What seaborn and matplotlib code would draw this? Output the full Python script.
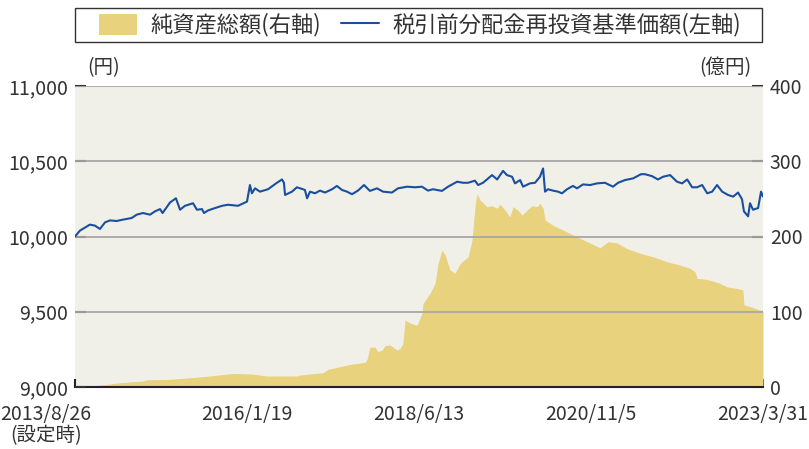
import pandas as pd
import numpy as np
import seaborn as sns
import matplotlib.pyplot as plt
from matplotlib.patches import Patch, Rectangle
from matplotlib.lines import Line2D

# ─────────────────────────────────────────
# DATA
# ─────────────────────────────────────────
START = pd.Timestamp("2013-08-26")
END   = pd.Timestamp("2023-03-31")

# 税引前分配金再投資基準価額 (円) — days since launch / value
nav_days = [0, 25, 76, 102, 127, 153, 178, 212, 244, 289, 314, 346, 382, 407, 433, 446, 484, 514, 535, 560,
            601, 621, 647, 657, 677, 713, 749, 779, 830, 876, 891, 901, 917, 942, 983, 1024, 1054, 1064, 1070,
            1105, 1130, 1161, 1171, 1182, 1197, 1222, 1248, 1273, 1309, 1334, 1360, 1385, 1411, 1441, 1472,
            1502, 1538, 1569, 1614, 1645, 1691, 1732, 1767, 1798, 1823, 1869, 1900, 1946, 1976, 2002, 2037,
            2053, 2078, 2124, 2150, 2180, 2200, 2226, 2241, 2267, 2282, 2317, 2343, 2368, 2384, 2394, 2409,
            2434, 2460, 2480, 2506, 2536, 2557, 2587, 2623, 2659, 2699, 2740, 2766, 2801, 2842, 2883, 2903,
            2939, 2969, 2995, 3031, 3066, 3092, 3118, 3143, 3168, 3194, 3220, 3245, 3270, 3296, 3326, 3352,
            3377, 3397, 3407, 3428, 3438, 3453, 3479, 3494, 3504]
nav_vals = [10000, 10039, 10079, 10072, 10050, 10094, 10107, 10103, 10112, 10123, 10145, 10156, 10145, 10167,
            10182, 10156, 10226, 10254, 10178, 10204, 10221, 10178, 10182, 10156, 10173, 10189, 10204, 10211,
            10204, 10232, 10342, 10287, 10320, 10298, 10314, 10353, 10379, 10357, 10276, 10298, 10327, 10314,
            10309, 10254, 10298, 10287, 10305, 10292, 10314, 10336, 10309, 10298, 10281, 10305, 10342, 10303,
            10320, 10298, 10292, 10320, 10331, 10327, 10331, 10305, 10314, 10303, 10331, 10364, 10357, 10357,
            10371, 10342, 10357, 10408, 10379, 10436, 10408, 10397, 10353, 10375, 10331, 10353, 10357, 10397,
            10452, 10298, 10314, 10305, 10298, 10287, 10314, 10336, 10320, 10346, 10342, 10353, 10357, 10331,
            10357, 10375, 10386, 10414, 10414, 10401, 10379, 10397, 10408, 10364, 10353, 10379, 10327, 10327,
            10342, 10287, 10298, 10342, 10298, 10276, 10265, 10292, 10248, 10167, 10134, 10221, 10178, 10189,
            10298, 10265]

# 純資産総額 (億円) — days since launch / value
aum_days = [0, 60, 161, 229, 346, 365, 484, 652, 805, 901, 978, 1131, 1146, 1263, 1289, 1401, 1477, 1487,
            1502, 1528, 1543, 1564, 1579, 1604, 1640, 1655, 1670, 1681, 1706, 1742, 1767, 1772, 1808, 1834,
            1849, 1869, 1884, 1910, 1935, 1961, 2002, 2022, 2037, 2047, 2063, 2098, 2124, 2150, 2165, 2190,
            2215, 2231, 2256, 2277, 2302, 2328, 2353, 2368, 2384, 2394, 2434, 2485, 2521, 2572, 2674, 2715,
            2760, 2811, 2878, 2944, 3015, 3081, 3132, 3158, 3168, 3219, 3285, 3321, 3372, 3402, 3407, 3438,
            3479, 3504]
aum_vals = [0, 1, 3.5, 5.7, 8, 9.5, 10.2, 13.7, 18, 17.3, 14.6, 14.6, 16, 19, 23.5, 30, 32.8, 36.5, 52.7,
            53, 47, 49, 55, 56, 49, 51, 58, 89, 85, 82, 98, 111, 124.5, 138, 164, 182, 176, 155.5, 151, 164,
            173, 195, 239.6, 257, 248.5, 239.6, 241, 237.5, 243, 235, 226, 239.6, 235, 228.6, 235, 241,
            239.6, 244, 237.5, 222, 215, 208.6, 204, 197.6, 185, 193, 191.5, 184, 177.7, 173, 166.5, 162,
            157.7, 153, 144.4, 143, 137.8, 133, 131, 129, 109, 107, 103, 100]

tick_dates  = ["2013-08-26", "2016-01-19", "2018-06-13", "2020-11-05", "2023-03-31"]
tick_labels = ["", "2016/1/19", "2018/6/13", "2020/11/5", "2023/3/31"]
left_ticks  = [9000, 9500, 10000, 10500, 11000]
right_ticks = [0, 100, 200, 300, 400]

nav = pd.DataFrame({"date": START + pd.to_timedelta(nav_days, unit="D"), "value": nav_vals})
aum = pd.DataFrame({"date": START + pd.to_timedelta(aum_days, unit="D"), "value": aum_vals})

# ─────────────────────────────────────────
# STYLE
# ─────────────────────────────────────────
sns.set_theme(style="white")
plt.rcParams['font.family'] = ['Noto Sans CJK JP', 'DejaVu Sans']

BG    = "#f1f0e8"
AREA  = "#e8d27d"
LINE  = "#1a4f9f"
GRID  = "#a6a6a6"
TEXT  = "#333333"

fig = plt.figure(figsize=(8.09, 4.49), dpi=100)
ax2 = fig.add_axes([75/809, 1 - 387/449, 688/809, 301/449])   # base axes: area, right scale, dates
ax = ax2.twinx()                                                # on top: NAV line, left scale
ax.yaxis.tick_left(); ax.yaxis.set_label_position("left")
ax2.yaxis.tick_right(); ax2.yaxis.set_label_position("right")

ax2.set_facecolor(BG)
ax.patch.set_visible(False)

# area
ax2.fill_between(aum["date"], 0, aum["value"], color=AREA, linewidth=0, zorder=1)
ax2.set_ylim(0, 400)
ax2.set_yticks(right_ticks)
ax2.set_yticklabels([str(v) for v in right_ticks])

# line
sns.lineplot(data=nav, x="date", y="value", ax=ax, color=LINE, linewidth=1.5, zorder=3)
ax.set_ylim(9000, 11000)
ax.set_yticks(left_ticks)
ax.set_yticklabels([f"{v:,}" for v in left_ticks])
for y in left_ticks[1:]:
    ax.axhline(y, color=GRID, linewidth=1.3, zorder=2)

for a in (ax, ax2):
    a.set_xlim(START, END)
    a.set_xlabel(""); a.set_ylabel("")
    for s in a.spines.values():
        s.set_visible(False)

ax2.set_xticks(pd.to_datetime(tick_dates))
ax2.set_xticklabels(tick_labels)
ax2.spines["bottom"].set_visible(True)
ax2.spines["bottom"].set_color("#222222")
ax2.spines["bottom"].set_linewidth(1.5)

ax.tick_params(axis="y", direction="in", length=8, width=1.5, color="#333333",
               labelsize=14, labelcolor=TEXT, pad=5, left=True)
ax2.tick_params(axis="y", direction="in", length=8, width=1.5, color="#333333",
                labelsize=14, labelcolor=TEXT, pad=5, right=True)
ax2.tick_params(axis="x", direction="in", length=6, width=1.5, color="#222222",
                labelsize=14, labelcolor=TEXT, pad=12, bottom=True, labelbottom=True)

ax2.annotate("2013/8/26\n(設定時)", xy=(0, 0), xycoords="axes fraction",
             xytext=(-21, -12), textcoords="offset points", ha="center", va="top",
             fontsize=14, color=TEXT, linespacing=1.05)

# unit labels
fig.text(104/809, 1 - 68/449, "(円)", ha="center", va="center", fontsize=14, color=TEXT)
fig.text(725/809, 1 - 68/449, "(億円)", ha="center", va="center", fontsize=14, color=TEXT)

# legend with a plain rectangular box
fig.patches.append(Rectangle((75/809, 1 - 42/449), 687/809, 34/449, transform=fig.transFigure,
                             fill=False, edgecolor="#333333", linewidth=1.0))
handles = [Patch(facecolor=AREA, edgecolor="none", label="純資産総額(右軸)"),
           Line2D([0], [0], color=LINE, linewidth=1.5, label="税引前分配金再投資基準価額(左軸)")]
fig.legend(handles=handles, loc="center", bbox_to_anchor=(420/809, 1 - 25/449), ncol=2,
           frameon=False, fontsize=16, handlelength=1.7, handleheight=1.1, columnspacing=0.9,
           handletextpad=0.6, labelcolor=TEXT)

plt.savefig("out.png", dpi=100)
